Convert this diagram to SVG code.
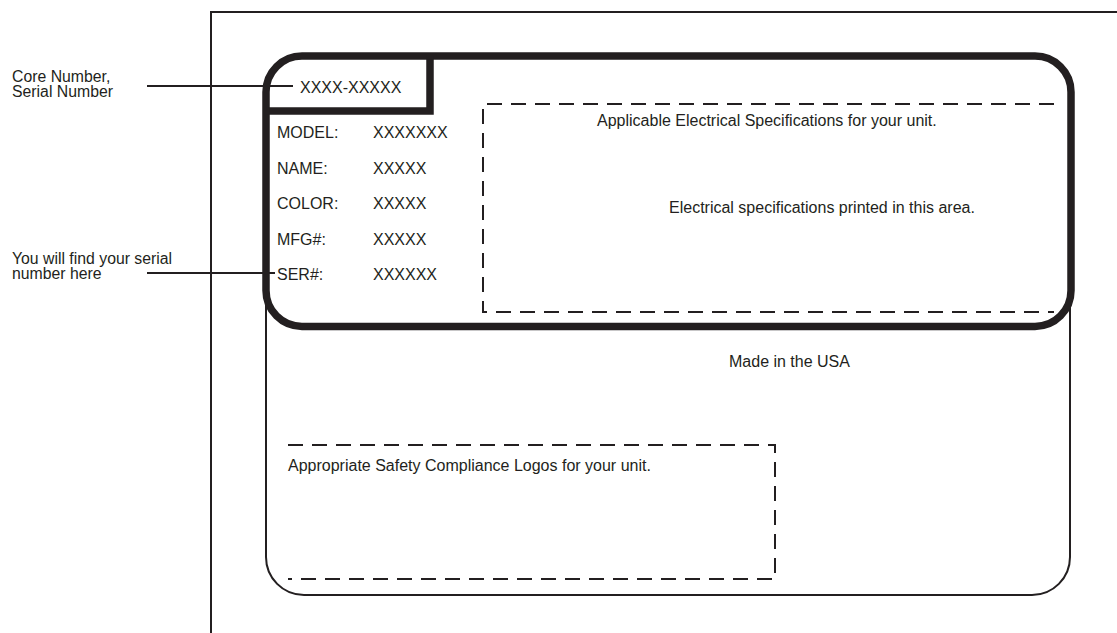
<svg xmlns="http://www.w3.org/2000/svg" width="1117" height="633" viewBox="0 0 1117 633">
<style>
  .t { font-family: "Liberation Sans", Arial, sans-serif; font-size: 16px; fill: #231f20; }
  .s { font-family: "Liberation Sans", Arial, sans-serif; font-size: 15.8px; fill: #231f20; }
  .thin { fill: none; stroke: #231f20; stroke-width: 2; }
  .thick { fill: none; stroke: #231f20; stroke-width: 7.5; }
  .dash { fill: none; stroke: #231f20; stroke-width: 2; stroke-dasharray: 15 9; }
  .lead { fill: none; stroke: #231f20; stroke-width: 2; }
</style>
<rect width="1117" height="633" fill="#ffffff"/>
<g id="frame">
  <path class="thin" d="M211,633 V12 H1117"/>
</g>
<g id="label-lower">
  <path class="thin" d="M266,300 V557 A38,38 0 0 0 304,595 H1032 A38,38 0 0 0 1070,557 V300"/>
</g>
<g id="label-upper">
  <rect class="thick" x="266" y="56" width="805" height="270.5" rx="36" ry="36"/>
</g>
<g id="core-box">
  <path class="thick" d="M430,56 V111 H266"/>
  <text class="t" x="300" y="92.5">XXXX-XXXXX</text>
</g>
<g id="fields">
  <text class="t" x="277" y="138">MODEL:</text>
  <text class="t" x="373" y="138">XXXXXXX</text>
  <text class="t" x="277" y="173.5">NAME:</text>
  <text class="t" x="373" y="173.5">XXXXX</text>
  <text class="t" x="277" y="209">COLOR:</text>
  <text class="t" x="373" y="209">XXXXX</text>
  <text class="t" x="277" y="244.5">MFG#:</text>
  <text class="t" x="373" y="244.5">XXXXX</text>
  <text class="t" x="277" y="279.5">SER#:</text>
  <text class="t" x="373" y="279.5">XXXXXX</text>
</g>
<g id="electrical-area">
  <path class="dash" d="M1054,104 H483 V312 H1054"/>
  <text class="t" x="597" y="126">Applicable Electrical Specifications for your unit.</text>
  <text class="t" x="669" y="213">Electrical specifications printed in this area.</text>
</g>
<g id="made-in">
  <text class="t" x="729" y="367">Made in the USA</text>
</g>
<g id="safety-area">
  <path class="dash" d="M288,445 H775 V579 H288"/>
  <text class="t" x="288" y="471">Appropriate Safety Compliance Logos for your unit.</text>
</g>
<g id="callout-core">
  <text class="s" x="12" y="81.5">Core Number,</text>
  <text class="s" x="12" y="97">Serial Number</text>
</g>
<g id="callout-serial">
  <text class="s" x="12" y="264">You will find your serial</text>
  <text class="s" x="12" y="279">number here</text>
</g>
<g id="connectors">
  <line class="lead" x1="147" y1="86" x2="293" y2="86"/>
  <line class="lead" x1="147" y1="273" x2="275" y2="273"/>
</g>
</svg>
